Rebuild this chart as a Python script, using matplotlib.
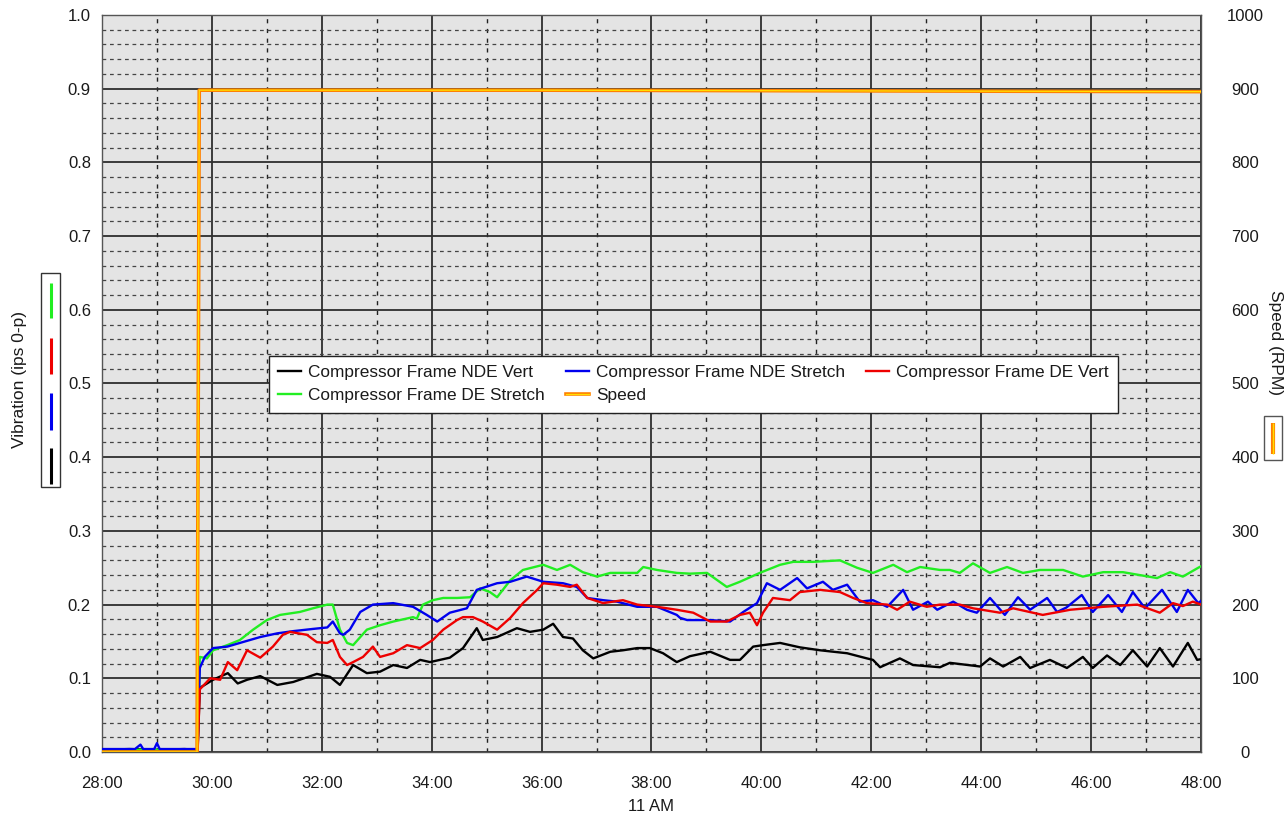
import matplotlib
matplotlib.use("Agg")
import matplotlib.pyplot as plt
from matplotlib.ticker import MultipleLocator, FuncFormatter
from matplotlib.lines import Line2D
from matplotlib.patches import Rectangle
from matplotlib.legend_handler import HandlerTuple

plt.rcParams["font.family"] = ["Liberation Sans", "DejaVu Sans"]
plt.rcParams["font.size"] = 12

# ---- data (time in minutes past 11:00 AM) ----
nde_vert_t = [28.0, 28.5, 29.0, 29.5, 29.74, 29.78, 30.02, 30.29, 30.47, 30.64, 30.88, 31.19, 31.48,
              31.91, 32.15, 32.33, 32.57, 32.82, 33.06, 33.30, 33.55, 33.79, 33.97, 34.33, 34.57,
              34.82, 34.93, 35.19, 35.55, 35.79, 36.03, 36.21, 36.39, 36.57, 36.75, 36.94, 37.25,
              37.48, 37.74, 37.97, 38.21, 38.46, 38.70, 39.07, 39.43, 39.61, 39.85, 40.03, 40.34,
              40.70, 41.07, 41.56, 41.92, 42.03, 42.16, 42.52, 42.76, 43.25, 43.43, 43.98, 44.16,
              44.40, 44.71, 44.89, 45.25, 45.56, 45.85, 46.03, 46.29, 46.53, 46.76, 47.02, 47.25,
              47.49, 47.76, 47.93, 48.0]
nde_vert_v = [0.003, 0.004, 0.003, 0.004, 0.003, 0.087, 0.098, 0.107, 0.093, 0.098, 0.103, 0.091, 0.095,
              0.106, 0.102, 0.091, 0.118, 0.107, 0.109, 0.118, 0.114, 0.125, 0.122, 0.128, 0.141,
              0.168, 0.152, 0.156, 0.168, 0.163, 0.166, 0.174, 0.156, 0.154, 0.138, 0.127, 0.136,
              0.138, 0.141, 0.141, 0.134, 0.122, 0.130, 0.136, 0.125, 0.125, 0.143, 0.145, 0.148,
              0.142, 0.138, 0.134, 0.127, 0.125, 0.115, 0.127, 0.118, 0.115, 0.121, 0.116, 0.127,
              0.116, 0.129, 0.114, 0.125, 0.114, 0.129, 0.114, 0.131, 0.118, 0.138, 0.116, 0.141,
              0.116, 0.148, 0.125, 0.126]

nde_stretch_t = [28.0, 28.6, 28.7, 28.75, 28.95, 29.0, 29.05, 29.74, 29.78, 29.87, 30.02, 30.28, 30.51,
                 30.88, 31.19, 31.48, 31.84, 32.10, 32.20, 32.33, 32.39, 32.51, 32.70, 32.93, 33.30,
                 33.66, 33.91, 34.10, 34.33, 34.64, 34.82, 35.19, 35.43, 35.73, 36.03, 36.39, 36.64,
                 36.83, 37.12, 37.37, 37.74, 38.10, 38.46, 38.52, 38.65, 39.07, 39.43, 39.67, 39.92,
                 40.10, 40.34, 40.65, 40.83, 41.12, 41.30, 41.56, 41.79, 42.03, 42.29, 42.58, 42.76,
                 43.03, 43.20, 43.49, 43.74, 43.92, 44.16, 44.43, 44.67, 44.89, 45.20, 45.38, 45.55,
                 45.83, 46.03, 46.31, 46.56, 46.76, 46.98, 47.29, 47.56, 47.76, 47.95, 48.0]
nde_stretch_v = [0.004, 0.004, 0.010, 0.004, 0.004, 0.012, 0.004, 0.004, 0.114, 0.129, 0.141, 0.143, 0.148,
                 0.156, 0.161, 0.164, 0.167, 0.169, 0.177, 0.161, 0.159, 0.166, 0.190, 0.200, 0.202,
                 0.197, 0.186, 0.177, 0.189, 0.195, 0.220, 0.229, 0.231, 0.238, 0.231, 0.229, 0.224,
                 0.209, 0.206, 0.204, 0.197, 0.197, 0.186, 0.182, 0.179, 0.179, 0.177, 0.190, 0.202,
                 0.229, 0.220, 0.236, 0.222, 0.231, 0.220, 0.227, 0.204, 0.206, 0.197, 0.220, 0.193,
                 0.204, 0.193, 0.204, 0.193, 0.189, 0.209, 0.186, 0.210, 0.193, 0.209, 0.190, 0.196,
                 0.213, 0.190, 0.213, 0.190, 0.217, 0.195, 0.220, 0.190, 0.220, 0.202, 0.205]

de_vert_t = [28.0, 29.74, 29.78, 29.97, 30.15, 30.29, 30.46, 30.64, 30.88, 31.11, 31.29, 31.42, 31.73,
             31.91, 32.10, 32.20, 32.33, 32.46, 32.57, 32.75, 32.93, 33.06, 33.30, 33.55, 33.79,
             34.02, 34.21, 34.46, 34.57, 34.75, 34.93, 35.19, 35.43, 35.66, 35.92, 36.03, 36.28,
             36.52, 36.64, 36.83, 37.12, 37.48, 37.74, 38.10, 38.46, 38.76, 39.07, 39.37, 39.61,
             39.79, 39.92, 40.03, 40.21, 40.52, 40.70, 41.07, 41.43, 41.67, 41.92, 42.29, 42.47,
             42.70, 43.01, 43.25, 43.61, 43.85, 44.34, 44.58, 45.12, 45.62, 46.22, 46.84, 47.25,
             47.49, 47.67, 47.85, 48.0]
de_vert_v = [0.000, 0.000, 0.085, 0.100, 0.098, 0.122, 0.111, 0.138, 0.128, 0.143, 0.159, 0.163, 0.159,
             0.149, 0.148, 0.152, 0.129, 0.118, 0.122, 0.129, 0.143, 0.129, 0.134, 0.145, 0.141,
             0.152, 0.166, 0.179, 0.183, 0.183, 0.177, 0.166, 0.182, 0.202, 0.220, 0.229, 0.227,
             0.224, 0.227, 0.209, 0.202, 0.206, 0.200, 0.197, 0.193, 0.189, 0.177, 0.177, 0.186,
             0.189, 0.172, 0.189, 0.209, 0.206, 0.217, 0.220, 0.217, 0.209, 0.202, 0.200, 0.193,
             0.204, 0.197, 0.200, 0.200, 0.195, 0.189, 0.195, 0.186, 0.193, 0.197, 0.200, 0.189,
             0.202, 0.198, 0.204, 0.200]

de_stretch_t = [28.0, 29.74, 29.78, 29.91, 30.02, 30.28, 30.51, 30.75, 31.00, 31.24, 31.60, 31.84, 32.10,
                32.20, 32.33, 32.46, 32.57, 32.82, 33.06, 33.30, 33.66, 33.73, 33.84, 34.02, 34.21,
                34.46, 34.70, 34.88, 35.06, 35.19, 35.43, 35.66, 36.03, 36.28, 36.52, 36.75, 37.01,
                37.25, 37.48, 37.74, 37.85, 38.10, 38.46, 38.70, 39.01, 39.37, 39.61, 39.97, 40.34,
                40.58, 40.94, 41.43, 41.74, 42.03, 42.40, 42.65, 42.89, 43.25, 43.43, 43.61, 43.85,
                44.16, 44.47, 44.76, 45.07, 45.49, 45.85, 46.22, 46.58, 46.89, 47.20, 47.44, 47.67,
                47.95, 48.0]
de_stretch_v = [0.003, 0.003, 0.129, 0.127, 0.138, 0.145, 0.152, 0.166, 0.179, 0.186, 0.190, 0.195, 0.200,
                0.200, 0.166, 0.148, 0.145, 0.166, 0.172, 0.177, 0.183, 0.181, 0.200, 0.206, 0.209,
                0.209, 0.210, 0.222, 0.217, 0.210, 0.233, 0.247, 0.254, 0.247, 0.254, 0.244, 0.238,
                0.243, 0.243, 0.243, 0.251, 0.247, 0.243, 0.242, 0.243, 0.224, 0.231, 0.243, 0.254,
                0.258, 0.258, 0.260, 0.250, 0.243, 0.254, 0.244, 0.251, 0.247, 0.247, 0.243, 0.256,
                0.243, 0.251, 0.243, 0.247, 0.247, 0.238, 0.244, 0.244, 0.240, 0.236, 0.244, 0.238,
                0.250, 0.252]

speed_t = [28.0, 29.73, 29.77, 36.0, 48.0]
speed_v = [0.0, 0.0, 898.0, 898.0, 896.0]

labels = ["Compressor Frame NDE Vert", "Compressor Frame NDE Stretch",
          "Compressor Frame DE Vert", "Compressor Frame DE Stretch", "Speed"]

# ---- styling ----
W, H = 1288, 817
C_BLACK, C_BLUE, C_RED, C_GREEN = "#000000", "#0000ee", "#ee0000", "#22ee22"
C_ORANGE, C_YELLOW = "#ff8000", "#ffe000"
TXT = "#1a1a1a"

fig = plt.figure(figsize=(W / 100, H / 100), dpi=100)
ax = fig.add_axes([102 / W, 1 - 752 / H, 1099 / W, 737 / H])
ax.set_facecolor("#e4e4e4")
ax.set_axisbelow(True)

ax.set_xlim(28, 48)
ax.set_ylim(0, 1.0)
ax.xaxis.set_major_locator(MultipleLocator(2))
ax.xaxis.set_minor_locator(MultipleLocator(1))
ax.yaxis.set_major_locator(MultipleLocator(0.1))
ax.yaxis.set_minor_locator(MultipleLocator(0.02))
ax.xaxis.set_major_formatter(FuncFormatter(lambda v, p: f"{int(round(v))}:00"))
ax.yaxis.set_major_formatter(FuncFormatter(lambda v, p: f"{v:.1f}"))

ax.grid(which="major", axis="both", color="#2e2e2e", lw=1.3, ls="-")
ax.grid(which="minor", axis="x", color="#222222", lw=1.0, ls=(0, (3, 4)))
ax.grid(which="minor", axis="y", color="#444444", lw=0.9, ls=(0, (3, 3)))
ax.tick_params(which="both", length=0)
ax.tick_params(axis="y", pad=8, labelsize=12, colors=TXT)
ax.tick_params(axis="x", pad=17, labelsize=12, colors=TXT)
for s in ax.spines.values():
    s.set_color("#555555")
    s.set_linewidth(1.0)

l_black, = ax.plot(nde_vert_t, nde_vert_v, color=C_BLACK, lw=1.7, zorder=3)
l_green, = ax.plot(de_stretch_t, de_stretch_v, color=C_GREEN, lw=1.7, zorder=3)
l_blue, = ax.plot(nde_stretch_t, nde_stretch_v, color=C_BLUE, lw=1.7, zorder=3)
l_red, = ax.plot(de_vert_t, de_vert_v, color=C_RED, lw=1.7, zorder=3)

ax2 = ax.twinx()
ax2.set_ylim(0, 1000)
ax2.yaxis.set_major_locator(MultipleLocator(100))
ax2.tick_params(which="both", length=0)
ax2.tick_params(axis="y", pad=32, labelsize=12, colors=TXT)
for lab in ax2.get_yticklabels():
    lab.set_horizontalalignment("center")
for s in ax2.spines.values():
    s.set_visible(False)
sp_o, = ax2.plot(speed_t, speed_v, color=C_ORANGE, lw=2.6, zorder=4)
sp_y, = ax2.plot(speed_t, speed_v, color=C_YELLOW, lw=0.9, zorder=5)

ax.set_xlabel("11 AM", fontsize=12, labelpad=6, color=TXT)

# legend: two rows, three columns
handles = [l_black, l_green, l_blue, (sp_o, sp_y), l_red]
order_labels = [labels[0], labels[3], labels[1], labels[4], labels[2]]
leg = ax2.legend(handles, order_labels, ncol=3, loc="center",
                 bbox_to_anchor=(0.538, 0.499), frameon=True, fancybox=False,
                 edgecolor="#222222", framealpha=1.0, fontsize=12.4,
                 handlelength=1.35, handletextpad=0.4, columnspacing=1.2,
                 borderpad=0.55, borderaxespad=0.0, labelspacing=0.45,
                 handler_map={tuple: HandlerTuple(ndivide=1, pad=0)})
leg.get_frame().set_linewidth(1.0)
for t in leg.get_texts():
    t.set_color(TXT)

# axis titles with series keys
def fx(px):
    return px / W

def fy(py):
    return 1 - py / H

fig.text(fx(20), fy(380), "Vibration (ips 0-p)", rotation=90, ha="center", va="center",
         fontsize=12.5, color=TXT)
fig.add_artist(Rectangle((fx(41), fy(487)), fx(60) - fx(41), fy(273) - fy(487),
                         transform=fig.transFigure, fill=False, edgecolor="#333333", lw=1.0))
key_cols = [C_GREEN, C_RED, C_BLUE, C_BLACK]
key_spans = [(283, 318), (338, 374), (393, 430), (448, 484)]
for c, (a, b) in zip(key_cols, key_spans):
    fig.add_artist(Line2D([fx(50.5), fx(50.5)], [fy(a), fy(b)], transform=fig.transFigure,
                          color=c, lw=2.2, solid_capstyle="butt"))

fig.text(fx(1275), fy(342), "Speed (RPM)", rotation=270, ha="center", va="center",
         fontsize=12.5, color=TXT)
fig.add_artist(Rectangle((fx(1264), fy(460)), fx(1282) - fx(1264), fy(416) - fy(460),
                         transform=fig.transFigure, fill=False, edgecolor="#555555", lw=1.0))
fig.add_artist(Line2D([fx(1273), fx(1273)], [fy(423), fy(454)], transform=fig.transFigure,
                      color=C_ORANGE, lw=3.0, solid_capstyle="butt"))
fig.add_artist(Line2D([fx(1273), fx(1273)], [fy(423), fy(454)], transform=fig.transFigure,
                      color=C_YELLOW, lw=1.0, solid_capstyle="butt"))

fig.savefig("out.png", dpi=100)
